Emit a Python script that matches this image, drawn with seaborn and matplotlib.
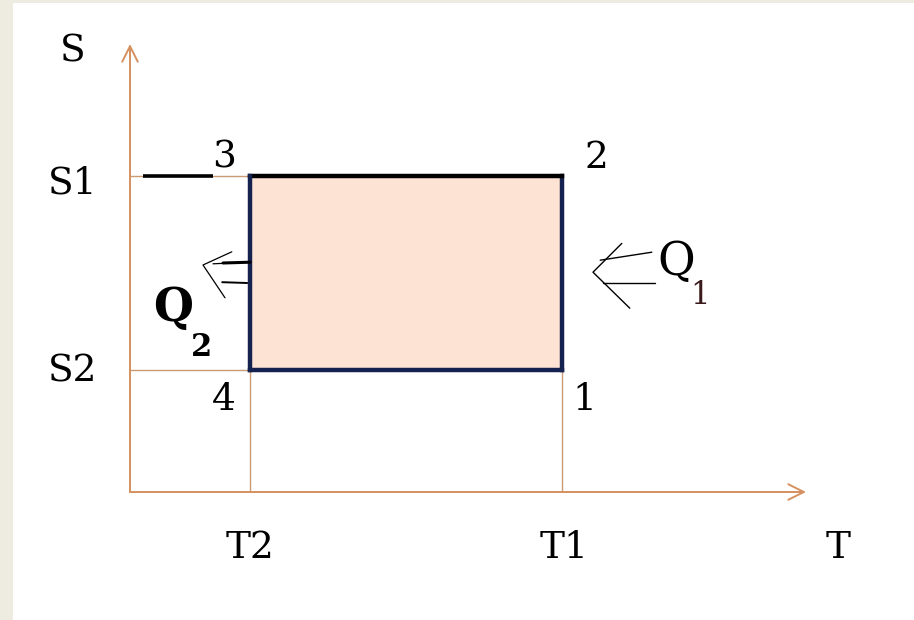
import pandas as pd
import seaborn as sns
import matplotlib.pyplot as plt

# Cycle corner values (T-S diagram)
t_levels = {"T2": 3.0, "T1": 10.8}
s_levels = {"S2": 3.05, "S1": 7.9}
axis_end = {"T": 16.9, "S": 11.2}

# Corner points of the cycle, in order 1 -> 2 -> 3 -> 4
corner_names = ["1", "2", "3", "4"]
corner_t = [t_levels["T1"], t_levels["T1"], t_levels["T2"], t_levels["T2"]]
corner_s = [s_levels["S2"], s_levels["S1"], s_levels["S1"], s_levels["S2"]]

AXIS_COLOR = "#d4915f"
GUIDE_COLOR = "#c99a74"
EDGE_COLOR = "#15224f"
FILL_COLOR = "#fce3d3"
BG_COLOR = "#eeebe0"


def draw_diagram():
    sns.set_theme(style="white")
    plt.rcParams["font.family"] = ["DejaVu Serif"]
    plt.rcParams["text.color"] = "black"

    fig = plt.figure(figsize=(9.14, 6.2), dpi=100, facecolor=BG_COLOR)
    ax = fig.add_axes([13 / 914, 0, 1 - 13 / 914, 1 - 3 / 620])
    ax.set_facecolor("white")
    ax.set_xlim(-2.925, 19.6)
    ax.set_ylim(-3.2, 12.225)
    ax.set_xticks([])
    ax.set_yticks([])
    sns.despine(ax=ax, left=True, bottom=True)

    t2, t1 = t_levels["T2"], t_levels["T1"]
    s2, s1 = s_levels["S2"], s_levels["S1"]

    # Shaded area of the cycle
    ax.fill_between([t2, t1], s2, s1, color=FILL_COLOR, lw=0, zorder=1)

    # Thin guide lines from the axes to the corners
    guides = pd.DataFrame({
        "T": [0, t2, 0, t2, t2, t2, t1, t1],
        "S": [s1, s1, s2, s2, 0, s2, 0, s2],
        "g": ["a", "a", "b", "b", "c", "c", "d", "d"],
    })
    sns.lineplot(data=guides, x="T", y="S", units="g", estimator=None, sort=False,
                 color=GUIDE_COLOR, lw=1.0, ax=ax, zorder=2)

    # Black stroke on the S1 level left of point 3
    ax.plot([0.33, 2.08], [s1, s1], color="black", lw=2.6, solid_capstyle="butt", zorder=3)

    # Cycle edges: 1-2 right, 2-3 top, 3-4 left, 4-1 bottom
    cyc = pd.DataFrame({"T": corner_t + [corner_t[0]], "S": corner_s + [corner_s[0]]})
    for i in range(4):
        seg = cyc.iloc[i:i + 2]
        color = "black" if i == 1 else EDGE_COLOR
        sns.lineplot(data=seg, x="T", y="S", estimator=None, sort=False,
                     color=color, lw=3.2, ax=ax, zorder=4)
    for line in ax.lines[-4:]:
        line.set_solid_capstyle("projecting")
    ax.set_xlabel("")
    ax.set_ylabel("")

    # Axes with open arrow heads
    arrow = dict(arrowstyle="->", color=AXIS_COLOR, lw=1.4, mutation_scale=28,
                 shrinkA=0, shrinkB=0)
    ax.annotate("", xy=(axis_end["T"], 0), xytext=(0, 0), arrowprops=arrow, zorder=5)
    ax.annotate("", xy=(0, axis_end["S"]), xytext=(0, 0), arrowprops=arrow, zorder=5)

    # Heat arrows: Q2 leaves at T2, Q1 enters at T1
    mid = (s1 + s2) / 2
    q2_tip = (t2 - 1.175, mid + 0.2)
    ax.plot([q2_tip[0] + 0.72, q2_tip[0], q2_tip[0] + 0.55],
            [q2_tip[1] + 0.33, q2_tip[1], q2_tip[1] - 0.82], color="black", lw=0.9, zorder=5)
    ax.plot([q2_tip[0] + 0.25, t2], [q2_tip[1] + 0.03, q2_tip[1] + 0.07], color="black", lw=0.9, zorder=5)
    ax.plot([q2_tip[0] + 0.5, t2], [q2_tip[1] + 0.05, q2_tip[1] + 0.07], color="black", lw=2.2, zorder=5)
    ax.plot([q2_tip[0] + 0.48, t2 - 0.07], [q2_tip[1] - 0.43, q2_tip[1] - 0.45], color="black", lw=1.4, zorder=5)

    q1_tip = (t1 + 0.775, mid + 0.02)
    ax.plot([q1_tip[0] + 0.72, q1_tip[0], q1_tip[0] + 0.92],
            [q1_tip[1] + 0.72, q1_tip[1], q1_tip[1] - 0.9], color="black", lw=1.0, zorder=5)
    ax.plot([q1_tip[0] + 0.18, q1_tip[0] + 1.47], [q1_tip[1] + 0.3, q1_tip[1] + 0.5],
            color="black", lw=1.0, zorder=5)
    ax.plot([q1_tip[0] + 0.25, q1_tip[0] + 1.55], [q1_tip[1] - 0.27, q1_tip[1] - 0.27],
            color="black", lw=1.0, zorder=5)

    # Labels
    txt = dict(ha="center", va="center", fontsize=27, color="black", zorder=6)
    ax.text(-1.425, 11.0, "S", **txt)
    ax.text(-1.425, s1 - 0.2, "S1", **txt)
    ax.text(-1.425, s2 - 0.05, "S2", **txt)
    ax.text(t2, -1.4, "T2", **txt)
    ax.text(t1 + 0.05, -1.4, "T1", **txt)
    ax.text(17.7, -1.4, "T", **txt)

    corner_offsets = {"1": (0.55, -0.75), "2": (0.85, 0.45), "3": (-0.65, 0.45), "4": (-0.65, -0.75)}
    for name, t, s in zip(corner_names, corner_t, corner_s):
        dx, dy = corner_offsets[name]
        ax.text(t + dx, s + dy, name, **txt)

    ax.text(1.075, 4.6, "Q", ha="center", va="center", fontsize=33, fontweight="bold",
            color="black", zorder=6)
    ax.text(1.8, 3.62, "2", ha="center", va="center", fontsize=22, fontweight="bold",
            color="black", zorder=6)
    ax.text(13.65, 5.75, "Q", ha="center", va="center", fontsize=33, color="black", zorder=6)
    ax.text(14.25, 4.9, "1", ha="center", va="center", fontsize=22, color="#3a1a1a", zorder=6)

    fig.savefig("out.png", dpi=100, facecolor=BG_COLOR)
    return fig


draw_diagram()
